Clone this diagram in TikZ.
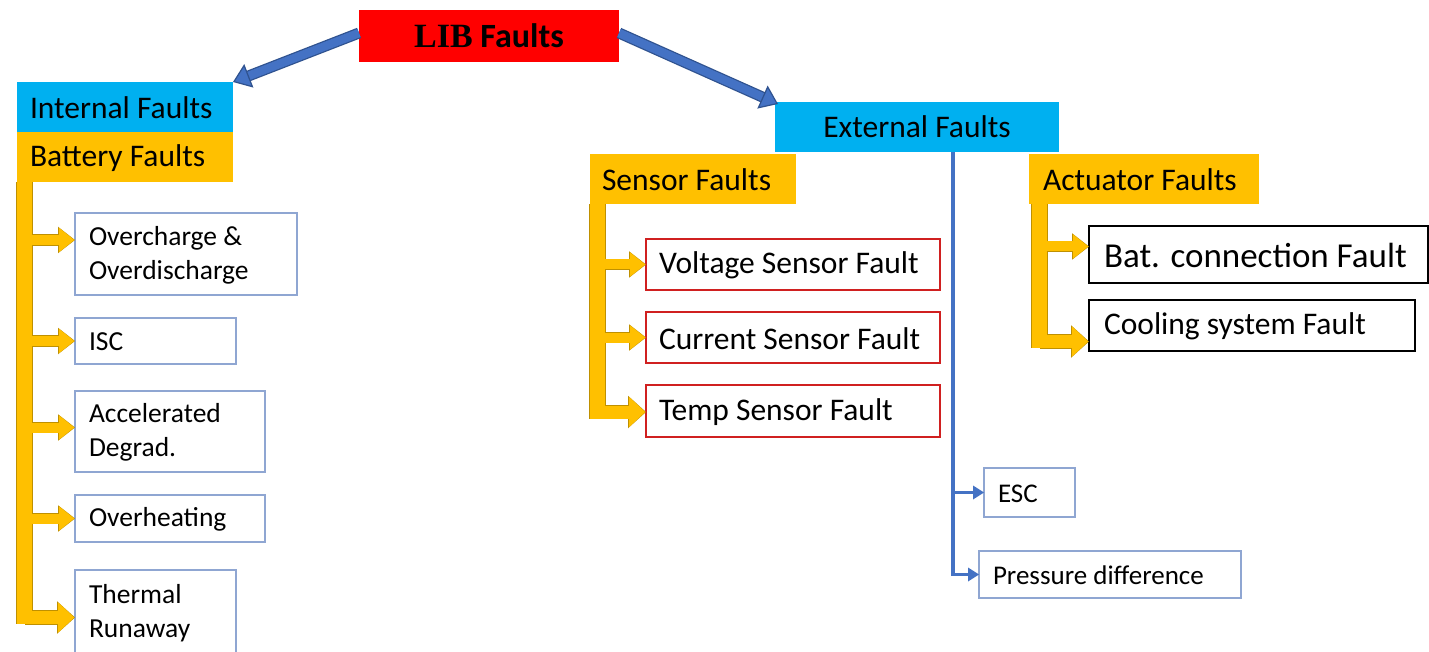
\documentclass[tikz,border=0pt]{standalone}
\usepackage{fontspec}
\setmainfont{Carlito}
\newfontfamily\tnr{Liberation Serif}
\usetikzlibrary{arrows.meta,calc}
\definecolor{cy}{HTML}{00B0F0}
\definecolor{org}{HTML}{FFC000}
\definecolor{orgd}{HTML}{BF9000}
\definecolor{bl}{HTML}{4472C4}
\definecolor{bld}{HTML}{2F528F}
\definecolor{gb}{HTML}{8FA6D2}
\definecolor{rb}{HTML}{D02020}
\newcommand\fsz[2]{\fontsize{#1}{#2}\selectfont}
% box: name, x, y, w, h, box style, text pad, text style, text
\newcommand\bx[9]{\node[#6, minimum width=#4pt, minimum height=#5pt, anchor=north west] (#1) at (#2,#3) {};
 \node[inner sep=0pt, anchor=west, align=left, #8] (#1t) at ($(#1.west)+(#7,1)$) {#9};}
\tikzset{
 every node/.style={inner ysep=0pt, outer sep=0pt},
 hdr/.style={fill=#1, draw=none},
 leaf/.style={draw=#1, line width=1.5pt, fill=white},
 obarO/.style={draw=orgd, line width=16.6pt},
 obar/.style={draw=org, line width=15pt},
 oarrowO/.style={draw=orgd, line width=11.6pt, -{Triangle[width=26.5pt,length=17pt,line width=0pt]}},
 oarrow/.style={draw=org, line width=10pt, -{Triangle[width=24pt,length=15pt,line width=0pt]}, shorten >=0.8pt},
 obentO/.style={draw=orgd, line width=14.6pt, -{Triangle[width=32.5pt,length=18pt,line width=0pt]}},
 obent/.style={draw=org, line width=13pt, -{Triangle[width=30pt,length=16pt,line width=0pt]}, shorten >=0.8pt},
 barrow/.style={draw=bl, line width=3.2pt, line join=miter, -{Triangle[width=14pt,length=11pt,line width=0pt]}},
 bigarrow/.style={preaction={draw=bld, line width=11pt, shorten >=12pt, -}, draw=bl, line width=8.5pt, -{Triangle[width=25pt,length=17pt,fill=bl,color=bld,line width=1.2pt]}},
}
\newcommand\orangeset[3]{%
 \draw[#1] (lbt) -- (lbb);
 \draw[#2] (lbt |- a1) -- (a1);
 \draw[#2] (lbt |- isc.west) -- (isc.west);
 \draw[#2] (lbt |- a3) -- (a3);
 \draw[#2] (lbt |- ovh.west) -- (ovh.west);
 \draw[#3] (lbt |- a5) -- (a5);
 \draw[#1] (sbt) -- (sbb);
 \draw[#2] (sbt |- vs.west) -- (vs.west);
 \draw[#2] (sbt |- cs.west) -- (cs.west);
 \draw[#3] (sbt |- s3) -- (s3);
 \draw[#1] (abt) -- (abb);
 \draw[#2] (abt |- b1) -- (b1);
 \draw[#3] (abt |- b2) -- (b2);
}
\begin{document}
\begin{tikzpicture}[x=1pt,y=-1pt]
\useasboundingbox[fill=white] (0,0) rectangle (1429,652);
% top
\node[fill=red, minimum width=260pt, minimum height=52pt, anchor=north west, font=\fsz{34}{40}\bfseries] (lib) at (359,10) {{\tnr LIB} Faults};
\bx{int}{17}{82}{216}{50}{hdr=cy}{13}{font=\fsz{31.5}{36}}{Internal Faults}
\bx{bat}{17}{132}{216}{50}{hdr=org}{13}{font=\fsz{31.5}{36}}{Battery Faults}
\node[hdr=cy, minimum width=284pt, minimum height=50pt, anchor=north west, font=\fsz{31.5}{36}] (ext) at (775,102) {External Faults};
\bx{sen}{590}{154}{206}{50}{hdr=org}{12}{font=\fsz{31.5}{36}}{Sensor Faults}
\bx{act}{1029}{154}{230}{50}{hdr=org}{14}{font=\fsz{31.5}{36}}{Actuator Faults}
% left leaves
\bx{oc}{75}{213}{222}{82}{leaf=gb}{14}{font=\fsz{27.5}{34}}{Overcharge \&\\Overdischarge}
\bx{isc}{75}{318}{161}{46}{leaf=gb}{14}{font=\fsz{27.5}{34}}{ISC}
\bx{acc}{75}{391}{190}{81}{leaf=gb}{14}{font=\fsz{27.5}{34}}{Accelerated\\Degrad.}
\bx{ovh}{75}{495}{190}{47}{leaf=gb}{14}{font=\fsz{27.5}{34}}{Overheating}
\bx{thr}{75}{570}{161}{84}{leaf=gb}{14}{font=\fsz{27.5}{34}}{Thermal\\Runaway}
% sensor leaves
\bx{vs}{646}{239}{294}{51}{leaf=rb}{13}{font=\fsz{31.5}{36}}{Voltage Sensor Fault}
\bx{cs}{646}{312}{294}{51}{leaf=rb}{13}{font=\fsz{31.5}{36}}{Current Sensor Fault}
\bx{ts}{646}{385}{294}{52}{leaf=rb}{13}{font=\fsz{31.5}{36}}{Temp Sensor Fault}
% actuator leaves
\bx{bc}{1089}{226}{339}{57}{leaf=black}{15}{font=\fsz{35}{40}}{Bat. connection Fault}
\bx{cool}{1089}{300}{326}{51}{leaf=black}{15}{font=\fsz{31.5}{36}}{Cooling system Fault}
% external leaves
\bx{esc}{984}{468}{91}{49}{leaf=gb}{14}{font=\fsz{27}{32}}{ESC}
\bx{pd}{979}{551}{262}{47}{leaf=gb}{14}{font=\fsz{27}{32}}{Pressure difference}
% coordinates
\coordinate (lbt) at ($(bat.south west)+(7.5,0)$);
\coordinate (a1) at ($(oc.west)+(0,-14)$);
\coordinate (a3) at ($(acc.west)+(0,-4)$);
\coordinate (a5) at ($(thr.west)+(0,5.5)$);
\coordinate (lbb) at ($(a5 -| lbt)+(0,6.5)$);
\coordinate (sbt) at ($(sen.south west)+(7.5,0)$);
\coordinate (s3) at ($(ts.west)+(0,1)$);
\coordinate (sbb) at ($(s3 -| sbt)+(0,6.5)$);
\coordinate (abt) at ($(act.south west)+(10.5,0)$);
\coordinate (b1) at ($(bc.west)+(0,-8)$);
\coordinate (b2) at ($(cool.west)+(0,16)$);
\coordinate (abb) at ($(b2 -| abt)+(0,6.5)$);
\coordinate (bt) at ($(ext.south west)+(178,0)$);
% orange connectors
\orangeset{obarO}{oarrowO}{obentO}
\orangeset{obar}{oarrow}{obent}
% blue connectors
\draw[barrow] (bt) -- (bt |- pd.west) -- (pd.west);
\draw[barrow] (bt |- esc.west) -- (esc.west);
\draw[bigarrow] ($(lib.west)+(0,-3)$) -- (int.north east);
\draw[bigarrow] ($(lib.east)+(0,-3)$) -- ($(ext.north west)+(3,2)$);
\end{tikzpicture}
\end{document}
